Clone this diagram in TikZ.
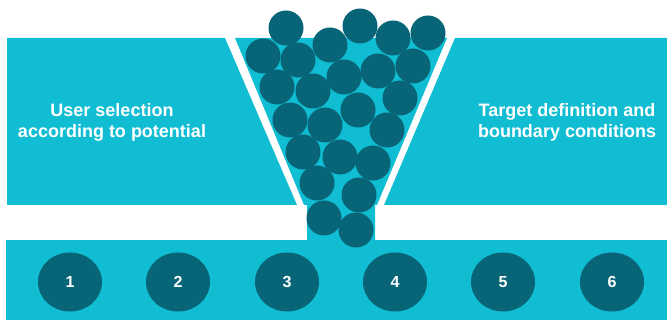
\documentclass[tikz,border=0pt]{standalone}
\usepackage{fontspec}
\setmainfont{Liberation Sans}
\usetikzlibrary{shapes.geometric}
\definecolor{lightcyan}{RGB}{17,189,210}
\definecolor{darkteal}{RGB}{8,101,120}
\begin{document}
\begin{tikzpicture}
  [x=1pt,y=-1pt,
   ball/.style={circle,fill=darkteal,minimum size=35pt,inner sep=0pt},
   stage/.style={ellipse,fill=darkteal,minimum width=64pt,minimum height=59pt,
     inner sep=0pt,text=white,font=\bfseries\fontsize{16}{18}\selectfont},
   label/.style={text=white,align=center,font=\bfseries\fontsize{18}{21}\selectfont}]

  \useasboundingbox (0,0) rectangle (667,320);

  % panels, funnel and bar
  \fill [lightcyan] (7,38) -- (225,38) -- (297,205) -- (7,205) -- cycle;
  \fill [lightcyan] (455,38) -- (667,38) -- (667,205) -- (384,205) -- cycle;
  \fill [lightcyan] (235,38) -- (447,38) -- (377,205) -- (375,205) -- (375,240)
    -- (307,240) -- (307,205) -- (304,205) -- cycle;
  \fill [lightcyan] (6,240) rectangle (667,320);

  \node [label] (select) at (112,122) {User selection\\according to potential};
  \node [label] (target) at (567,122) {Target definition and\\boundary conditions};

  \foreach \name/\x in {1/70,2/178,3/287,4/395,5/503,6/612}
    \node [stage] (s\name) at (\x,282) {\name};

  % balls in the funnel
  \foreach \name/\x/\y in {b1/286/28,b2/360/26,b3/393/38,b4/428/33,b5/330/45,
      b6/263/56,b7/298/60,b8/378/71,b9/413/66,b10/344/77,b11/277/87,
      b12/313/91,b13/400/98,b14/358/110,b15/290/120,b16/325/125,b17/387/130,
      b18/303/152,b19/340/157,b20/373/163,b21/317/183,b22/359/195,
      b23/324/218,b24/356/230}
    \node [ball] (\name) at (\x,\y) {};
\end{tikzpicture}
\end{document}
